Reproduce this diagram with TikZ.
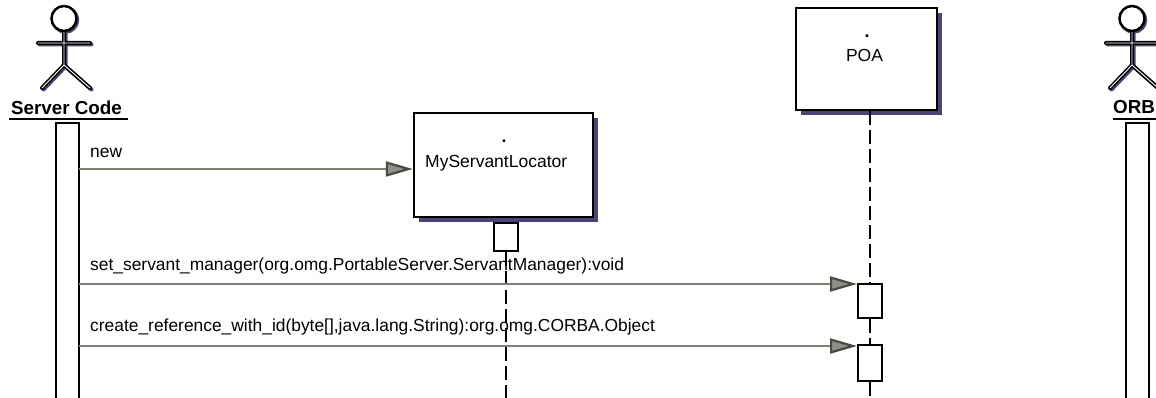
\documentclass[tikz,border=0pt]{standalone}
\usepackage{fontspec}
\setmainfont{Liberation Sans}
\usetikzlibrary{arrows.meta,shadows}
\definecolor{shadowc}{HTML}{4B4478}
\definecolor{msgline}{HTML}{7F7F75}
\definecolor{tipfill}{HTML}{8E8E8E}
\definecolor{tipedge}{HTML}{4A4A3E}
\begin{document}
\begin{tikzpicture}[x=1pt,y=-1pt,
  objbox/.style={draw=black,line width=2.5pt,fill=white,inner sep=0pt,
    drop shadow={shadow xshift=5pt,shadow yshift=-5pt,fill=shadowc,opacity=1}},
  actbar/.style={draw=black,line width=2pt,fill=white,inner sep=0pt,minimum width=23pt},
  msg/.style={draw=msgline,line width=2pt,
    -{Triangle[length=27pt,width=15pt,color=tipedge,fill=tipfill,line width=2.2pt]}},
  life/.style={draw=black,line width=2pt,dash pattern=on 14pt off 5pt},
  lbl/.style={font=\fontsize{17.4}{20}\selectfont,inner sep=0pt},
  boxlbl/.style={font=\fontsize{17.5}{20}\selectfont,inner sep=0pt},
  actlbl/.style={font=\fontsize{18.8}{22}\selectfont\bfseries,inner sep=0pt},
  stick/.style={line width=4pt,line cap=round},
  stickin/.style={line width=0.9pt,white,line cap=round},
  actor/.pic={
    \draw[shadowc,line width=4pt,line cap=round,shift={(1.5,1.5)}]
      (0,12.5)--(0,46.5) (-26,24.5)--(26,24.5) (0,46.5)--(-22,69.5) (0,46.5)--(26,69.5);
    \draw[shadowc,line width=2.5pt,shift={(1.5,1.5)}] (0,0) circle (12.5);
    \draw[black,line width=2.5pt,fill=white] (0,0) circle (12.5);
    \draw[stick] (0,13.5)--(0,46.5) (-26,24.5)--(26,24.5) (0,46.5)--(-22,69.5) (0,46.5)--(26,69.5);
    \draw[stickin] (0,14)--(0,46.5) (-26,24.5)--(26,24.5) (0,46.5)--(-22,69.5) (0,46.5)--(26,69.5);
  }]
\useasboundingbox (0,0) rectangle (1156,398);
\clip (0,0) rectangle (1156,398);
\fill[white] (0,0) rectangle (1156,398);

% actors
\pic at (64,18.5) {actor};
\pic at (1132,18.5) {actor};
\node[actlbl,anchor=base] (sclabel) at (66.5,115) {Server Code};
\node[actlbl,anchor=base] (orblabel) at (1134,114) {ORB};
\coordinate (scul1) at (9,119);
\coordinate (scul2) at (128,119);
\coordinate (orbul1) at (1113,119);
\coordinate (orbul2) at (1158,119);
\draw[line width=1.8pt] (scul1) -- (scul2);
\draw[line width=1.8pt] (orbul1) -- (orbul2);

% activation bars of actors
\node[actbar,minimum height=300pt,anchor=north] (scbar) at (67.5,122) {};
\node[actbar,minimum height=300pt,anchor=north] (orbbar) at (1137.5,122) {};

% objects
\node[objbox,minimum width=179pt,minimum height=104pt] (msl) at (503.5,165) {};
\node[boxlbl,anchor=base] (msldot) at (504,143) {\textbf{.}};
\node[boxlbl,anchor=base west] (msltext) at (425,168) {MyServantLocator};
\node[objbox,minimum width=141pt,minimum height=102pt] (poa) at (866.5,59) {};
\node[boxlbl,anchor=base] (poadot) at (867,38) {\textbf{.}};
\node[boxlbl,anchor=base] (poatext) at (864.5,62) {POA};

% activations on lifelines
\node[actbar,minimum width=24pt,minimum height=28pt,anchor=north] (mslact) at (506,222) {};
\node[actbar,minimum width=24pt,minimum height=34pt,anchor=north] (a1) at (870,283) {};
\node[actbar,minimum width=24pt,minimum height=36pt,anchor=north] (a2) at (870,344) {};

% lifelines
\coordinate (mslend) at (506,420);
\coordinate (poaend) at (870,420);
\draw[life] (mslact.south) -- (mslend);
\draw[life] (poa.south -| a1.north) -- (a1.north);
\draw[life] (a1.south) -- (a2.north);
\draw[life] (a2.south) -- (poaend);

% messages
\coordinate (m1s) at (79,169);
\coordinate (m2s) at (79,284);
\coordinate (m3s) at (79,346);
\draw[msg] (m1s) -- (m1s -| msl.west);
\draw[msg] (m2s) -- (m2s -| a1.west);
\draw[msg] (m3s) -- (m3s -| a2.west);
\node[lbl,anchor=base west] (m1l) at (90,158) {new};
\node[lbl,anchor=base west] (m2l) at (90,270.5) {set\_servant\_manager(org.omg.PortableServer.ServantManager):void};
\node[lbl,anchor=base west] (m3l) at (90,331.5) {create\_reference\_with\_id(byte[],java.lang.String):org.omg.CORBA.Object};
\end{tikzpicture}
\end{document}
